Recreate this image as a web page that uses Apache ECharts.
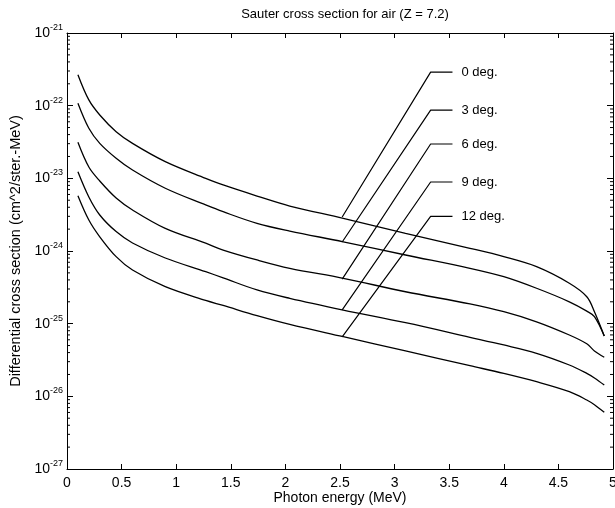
<!DOCTYPE html>
<html lang="en">
<head>
<meta charset="UTF-8">
<title>Sauter cross section for air</title>
<script src="https://cdn.jsdelivr.net/npm/echarts@6/dist/echarts.min.js"></script>
<style>html,body{margin:0;padding:0;background:#fff}</style>
</head>
<body>
<div id="main" style="width:615px;height:508px"></div>
<script>
// photon energy (MeV) where the curves were read
var energy = [0.1, 0.2, 0.3, 0.45, 0.6, 0.9, 1.27, 1.43, 1.74, 2.04, 2.53, 3.1, 3.69, 4.0, 4.3, 4.6, 4.76, 4.83, 4.92];

// cross section, cm^2/ster.-MeV
var deg0 = [2.67e-22, 1.20e-22, 7.45e-23, 4.39e-23, 3.03e-23, 1.70e-23, 1.0e-23, 8.1e-24, 5.71e-24, 4.16e-24, 2.82e-24, 1.75e-24, 1.09e-24, 8.36e-25, 6.08e-25, 3.60e-25, 2.35e-25, 1.46e-25, 6.76e-26];
var deg3 = [1.08e-22, 4.89e-23, 3.03e-23, 1.89e-23, 1.30e-23, 7.30e-24, 4.30e-24, 3.47e-24, 2.40e-24, 1.88e-24, 1.34e-24, 8.81e-25, 5.78e-25, 4.43e-25, 3.07e-25, 2.00e-25, 1.49e-25, 1.25e-25, 6.76e-26];
var deg6 = [3.13e-23, 1.43e-23, 9.19e-24, 5.36e-24, 3.67e-24, 2.05e-24, 1.28e-24, 1.03e-24, 7.52e-25, 5.78e-25, 4.21e-25, 2.75e-25, 1.87e-25, 1.46e-25, 1.06e-25, 6.98e-26, 5.28e-26, 4.21e-26, 3.45e-26];
var deg9 = [1.23e-23, 5.54e-24, 3.13e-24, 1.85e-24, 1.29e-24, 8.01e-25, 5.19e-25, 4.27e-25, 2.91e-25, 2.23e-25, 1.54e-25, 1.03e-25, 6.50e-26, 5.09e-26, 3.91e-26, 2.70e-26, 2.07e-26, 1.79e-26, 1.43e-26];
var deg12 = [5.77e-24, 2.67e-24, 1.57e-24, 8.36e-25, 5.48e-25, 3.23e-25, 2.09e-25, 1.78e-25, 1.29e-25, 9.77e-26, 6.62e-26, 4.21e-26, 2.64e-26, 2.07e-26, 1.59e-26, 1.16e-26, 8.91e-27, 7.67e-27, 6.03e-27];

// label leaders: start on curve, bend, then run flat to the text
var labelNames = ['0 deg.', '3 deg.', '6 deg.', '9 deg.', '12 deg.'];
var leaderX = [2.52, 3.33, 3.53];
var leaderStart = [2.94e-24, 1.33e-24, 4.1e-25, 1.55e-25, 6.6e-26];
var leaderEnd = [2.9e-22, 8.7e-23, 2.97e-23, 8.9e-24, 3.0e-24];

// decades shown on the y axis (powers of ten)
var yDecades = [-27, -26, -25, -24, -23, -22, -21];
var yMinor = [];
for (var d = 0; d < yDecades.length - 1; d++) {
    for (var k = 2; k <= 9; k++) yMinor.push(yDecades[d] + Math.log10(k));
}

var font = '"Liberation Sans", Arial, sans-serif';
var black = '#000';
var myChart = echarts.init(document.getElementById('main'), null, { renderer: 'canvas' });

// y axis is drawn in log10 units
function lg(v) { return Math.log10(v); }

var curves = [deg0, deg3, deg6, deg9, deg12];
var series = [];
curves.forEach(function (vals) {
    series.push({
        type: 'line',
        data: energy.map(function (e, i) { return [e, lg(vals[i])]; }),
        showSymbol: false,
        smooth: 0.35,
        lineStyle: { color: black, width: 1.3 },
        silent: true
    });
});
labelNames.forEach(function (name, i) {
    series.push({
        type: 'line',
        name: name,
        data: [[leaderX[0], lg(leaderStart[i])], [leaderX[1], lg(leaderEnd[i])], [leaderX[2], lg(leaderEnd[i])]],
        showSymbol: false,
        lineStyle: { color: black, width: 1.2 },
        endLabel: {
            show: true,
            formatter: name,
            distance: 9,
            color: black,
            fontSize: 13,
            fontFamily: font
        },
        silent: true
    });
});
// minor log ticks on left and right frame
series.push({
    type: 'custom',
    silent: true,
    clip: false,
    data: yMinor.map(function (v) { return [0, v]; }),
    renderItem: function (params, api) {
        var l = api.coord([0, api.value(1)]);
        var r = api.coord([5, api.value(1)]);
        var st = { stroke: black, lineWidth: 1 };
        return {
            type: 'group',
            children: [
                { type: 'line', shape: { x1: l[0], y1: l[1], x2: l[0] + 3, y2: l[1] }, style: st },
                { type: 'line', shape: { x1: r[0] - 3, y1: r[1], x2: r[0], y2: r[1] }, style: st }
            ]
        };
    }
});

function xAx(pos, labels) {
    return {
        type: 'value', position: pos, min: 0, max: 5, interval: 0.5,
        axisLine: { show: true, onZero: false, lineStyle: { color: black, width: 1 } },
        axisTick: { show: true, inside: true, length: 5, lineStyle: { color: black } },
        axisLabel: { show: labels, color: black, fontSize: 14, fontFamily: font, margin: 7 },
        splitLine: { show: false },
        name: labels ? 'Photon energy (MeV)' : '',
        nameLocation: 'middle', nameGap: 22, nameMoveOverlap: false,
        nameTextStyle: { color: black, fontSize: 14, fontFamily: font }
    };
}
function yAx(pos, labels) {
    return {
        type: 'value', position: pos, min: yDecades[0], max: yDecades[yDecades.length - 1], interval: 1,
        axisLine: { show: true, onZero: false, lineStyle: { color: black, width: 1 } },
        axisTick: { show: true, inside: true, length: 6, lineStyle: { color: black } },
        axisLabel: {
            show: labels, margin: 4,
            formatter: function (v) { return '{b|10}{s|' + v + '}'; },
            rich: {
                b: { fontSize: 14, fontFamily: font, color: black, lineHeight: 20 },
                s: { fontSize: 9, fontFamily: font, color: black, verticalAlign: 'top' }
            }
        },
        splitLine: { show: false },
        name: labels ? 'Differential cross section (cm^2/ster.-MeV)' : '',
        nameLocation: 'middle', nameGap: 44, nameRotate: 90, nameMoveOverlap: false,
        nameTextStyle: { color: black, fontSize: 14.5, fontFamily: font }
    };
}

var option = {
    animation: false,
    backgroundColor: '#fff',
    title: {
        text: 'Sauter cross section for air (Z = 7.2)',
        left: 340, top: 3, textAlign: 'center',
        textStyle: { color: black, fontSize: 13, fontWeight: 'normal', fontFamily: font }
    },
    grid: { left: 67, right: 2, top: 33, bottom: 39, outerBoundsMode: 'none' },
    xAxis: [xAx('bottom', true), xAx('top', false)],
    yAxis: [yAx('left', true), yAx('right', false)],
    series: series
};
myChart.setOption(option);
</script>
</body>
</html>
